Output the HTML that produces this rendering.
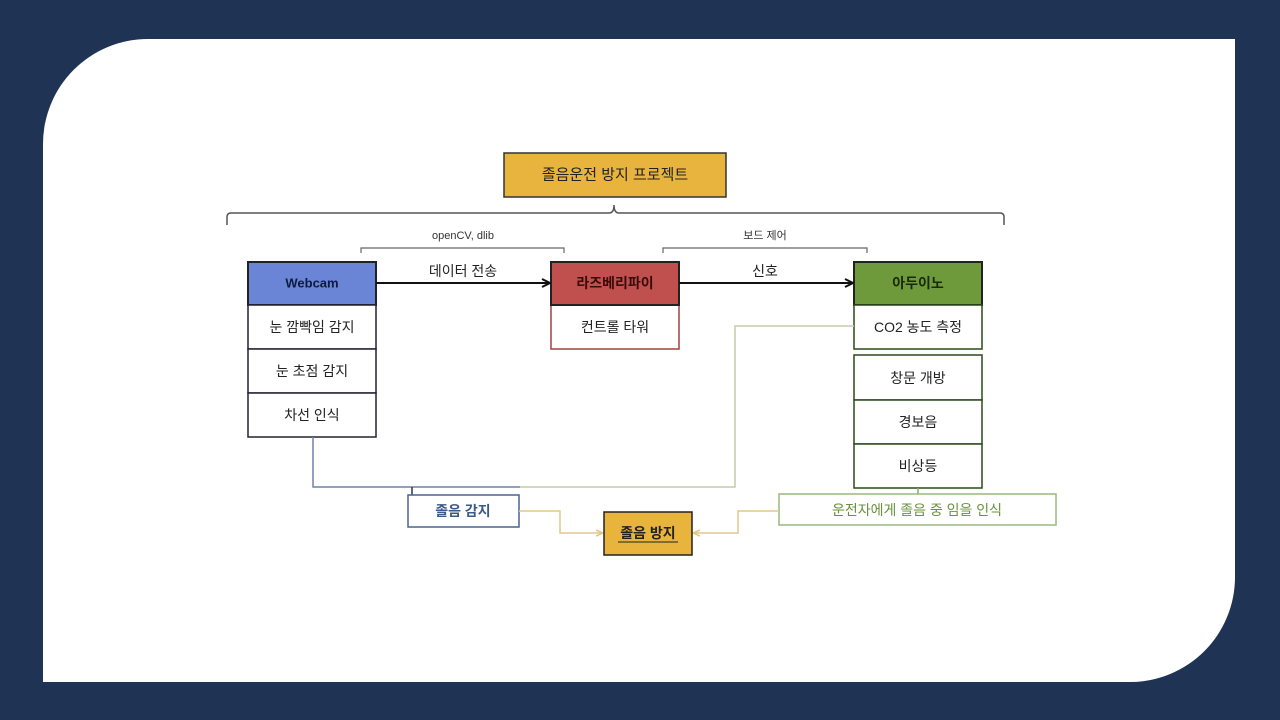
<!DOCTYPE html>
<html><head><meta charset="utf-8"><style>
html,body{margin:0;padding:0;background:#1f3454;width:1280px;height:720px;overflow:hidden}
svg{display:block}
text{font-family:"Liberation Sans","Noto Sans CJK KR","NanumGothic",sans-serif;text-anchor:middle;dominant-baseline:central}
</style></head><body>
<svg width="1280" height="720" viewBox="0 0 1280 720" xmlns="http://www.w3.org/2000/svg">
<defs>
<marker id="ab" markerWidth="10" markerHeight="10" refX="9" refY="5" orient="auto" markerUnits="userSpaceOnUse"><path d="M1,1 L9,5 L1,9" fill="none" stroke="#111" stroke-width="2"/></marker>
<marker id="at" markerWidth="10" markerHeight="10" refX="9" refY="5" orient="auto" markerUnits="userSpaceOnUse"><path d="M2,2 L9,5 L2,8" fill="none" stroke="#e0c88a" stroke-width="1.5"/></marker>
</defs>
<rect width="1280" height="720" fill="#1f3454"/>
<path d="M148,39 H1235 V577 A105,105 0 0 1 1130,682 H43 V144 A105,105 0 0 1 148,39 Z" fill="#fff"/>

<rect x="504" y="153" width="222" height="44" fill="#e8b43e" stroke="#333" stroke-width="1.5"/>
<text x="615" y="175" font-size="15" fill="#222">졸음운전 방지 프로젝트</text>

<path d="M227,225 V217 Q227,213 231,213 H609 Q614,213 614,205 Q614,213 619,213 H1000 Q1004,213 1004,217 V225" fill="none" stroke="#555" stroke-width="1.5"/>
<path d="M361,253 V248 H564 V253" fill="none" stroke="#666" stroke-width="1.2"/>
<text x="463" y="236" font-size="11" fill="#333">openCV, dlib</text>
<path d="M663,253 V248 H867 V253" fill="none" stroke="#666" stroke-width="1.2"/>
<text x="765" y="236" font-size="11" fill="#333">보드 제어</text>

<rect x="248" y="262" width="128" height="43" fill="#6a84d6" stroke="#222" stroke-width="2"/>
<text x="312" y="283" font-size="13" font-weight="bold" fill="#0e1a40">Webcam</text>
<rect x="248" y="305" width="128" height="44" fill="#fff" stroke="#223" stroke-width="1.5"/>
<rect x="248" y="349" width="128" height="44" fill="#fff" stroke="#223" stroke-width="1.5"/>
<rect x="248" y="393" width="128" height="44" fill="#fff" stroke="#223" stroke-width="1.5"/>
<text x="312" y="327" font-size="14" fill="#222">눈 깜빡임 감지</text>
<text x="312" y="371" font-size="14" fill="#222">눈 초점 감지</text>
<text x="312" y="415" font-size="14" fill="#222">차선 인식</text>

<rect x="551" y="305" width="128" height="44" fill="#fff" stroke="#a04040" stroke-width="1.5"/>
<rect x="551" y="262" width="128" height="43" fill="#c0504d" stroke="#222" stroke-width="2"/>
<text x="615" y="283" font-size="14" font-weight="bold" fill="#3a0a0a">라즈베리파이</text>
<text x="615" y="327" font-size="14" fill="#222">컨트롤 타워</text>

<rect x="854" y="262" width="128" height="43" fill="#6e9a3c" stroke="#222" stroke-width="2"/>
<text x="918" y="283" font-size="14" font-weight="bold" fill="#1a2a08">아두이노</text>
<rect x="854" y="305" width="128" height="44" fill="#fff" stroke="#2a4a18" stroke-width="1.5"/>
<text x="918" y="327" font-size="14" fill="#222">CO2 농도 측정</text>
<rect x="854" y="355" width="128" height="45" fill="#fff" stroke="#2a4a18" stroke-width="1.5"/>
<rect x="854" y="400" width="128" height="44" fill="#fff" stroke="#2a4a18" stroke-width="1.5"/>
<rect x="854" y="444" width="128" height="44" fill="#fff" stroke="#2a4a18" stroke-width="1.5"/>
<text x="918" y="378" font-size="14" fill="#222">창문 개방</text>
<text x="918" y="422" font-size="14" fill="#222">경보음</text>
<text x="918" y="466" font-size="14" fill="#222">비상등</text>

<line x1="376" y1="283" x2="550" y2="283" stroke="#111" stroke-width="2" marker-end="url(#ab)"/>
<text x="463" y="271" font-size="14" fill="#222">데이터 전송</text>
<line x1="679" y1="283" x2="853" y2="283" stroke="#111" stroke-width="2" marker-end="url(#ab)"/>
<text x="765" y="271" font-size="14" fill="#222">신호</text>

<path d="M313,437 V487 H520" fill="none" stroke="#6f84a8" stroke-width="1.5"/>
<path d="M520,487 H735 V326 H854" fill="none" stroke="#c8caa8" stroke-width="1.5"/>
<line x1="412" y1="487" x2="412" y2="495" stroke="#334" stroke-width="1.5"/>
<line x1="918" y1="488" x2="918" y2="494" stroke="#8aaa66" stroke-width="1.5"/>

<rect x="408" y="495" width="111" height="32" fill="#fff" stroke="#4a6490" stroke-width="1.5"/>
<text x="463" y="511" font-size="14" font-weight="bold" fill="#3a5a8a">졸음 감지</text>

<rect x="779" y="494" width="277" height="31" fill="#fff" stroke="#9ab880" stroke-width="1.5"/>
<text x="917" y="510" font-size="14" fill="#6a9040">운전자에게 졸음 중 임을 인식</text>

<path d="M519,511 H560 V533 H603" fill="none" stroke="#e0c88a" stroke-width="1.5" marker-end="url(#at)"/>
<path d="M779,511 H738 V533 H693" fill="none" stroke="#e0c88a" stroke-width="1.5" marker-end="url(#at)"/>

<rect x="604" y="512" width="88" height="43" fill="#e8b43e" stroke="#222" stroke-width="1.5"/>
<text x="648" y="533" font-size="14" font-weight="bold" fill="#222">졸음 방지</text>
<line x1="618" y1="542" x2="678" y2="542" stroke="#222" stroke-width="1"/>
</svg>
</body></html>
